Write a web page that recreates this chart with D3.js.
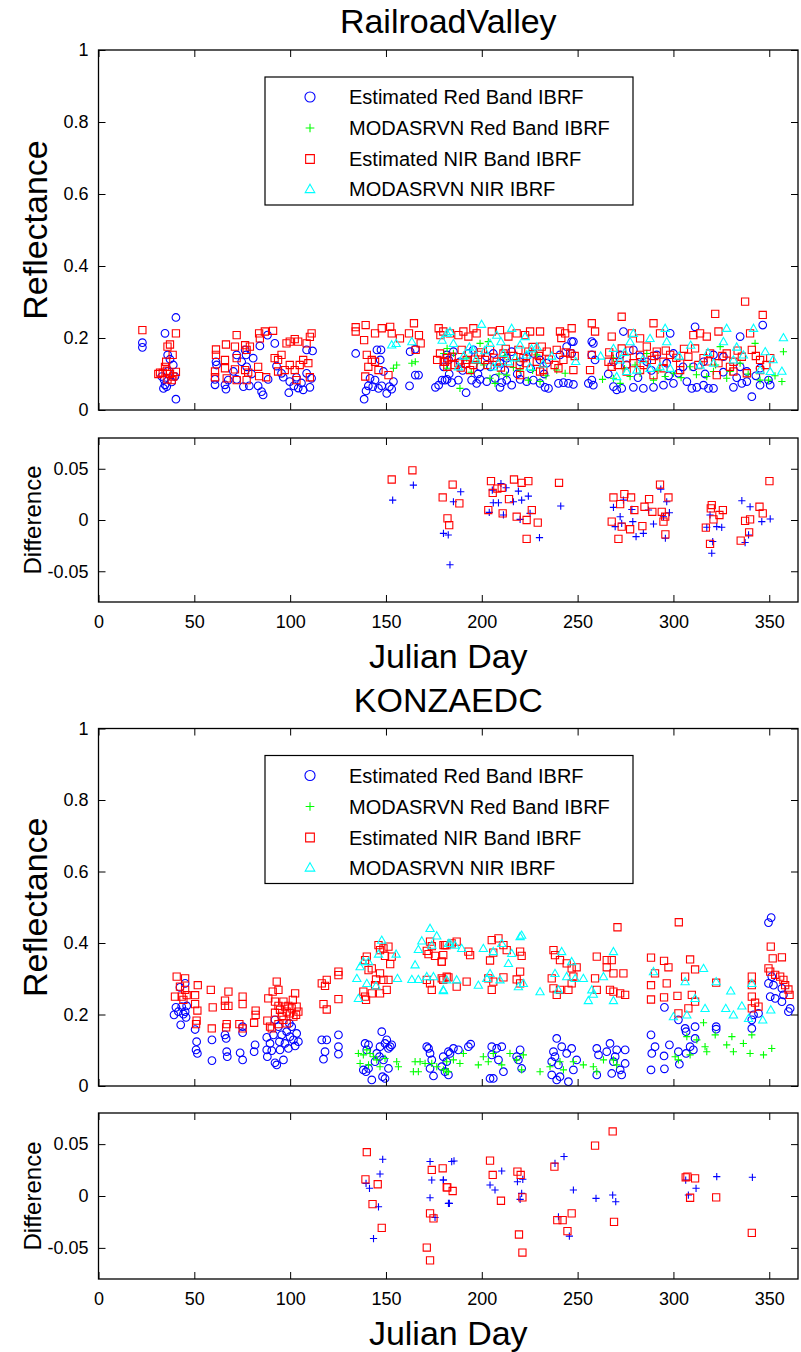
<!DOCTYPE html>
<html>
<head>
<meta charset="utf-8">
<script src="https://d3js.org/d3.v7.min.js"></script>
<style>
  body { margin: 0; background: #fff; }
  text { font-family: "Liberation Sans", Arial, sans-serif; fill: #000; }
</style>
</head>
<body>
<script>
// ---------- tick labels / categories ----------
var xTicks = [0, 50, 100, 150, 200, 250, 300, 350];
var reflTicks = [0, 0.2, 0.4, 0.6, 0.8, 1];
var diffTicks = [-0.05, 0, 0.05];
var legendLabels = ["Estimated Red Band IBRF", "MODASRVN Red Band IBRF", "Estimated NIR Band IBRF", "MODASRVN NIR IBRF"];
var siteNames = ["RailroadValley", "KONZAEDC"];

// ---------- RailroadValley: [julian day, reflectance] ----------
var rvEstRed = [
  [22.9,0.187],[22.9,0.174],[34.7,0.213],[40.4,0.257],[36.1,0.153],[37.3,0.141],[39.0,0.125],[33.0,0.093],[34.2,0.084],[34.7,0.070],
  [33.9,0.060],[35.6,0.065],[38.2,0.078],[40.4,0.030],[39.9,0.093],[36.0,0.107],
  [60.8,0.085],[60.8,0.070],[61.3,0.134],[61.6,0.125],[66.0,0.070],[66.5,0.058],[67.7,0.083],[70.4,0.107],[72.1,0.085],[74.7,0.134],
  [75.6,0.065],[77.0,0.153],[78.7,0.067],[79.9,0.100],[80.7,0.144],[83.3,0.067],[84.2,0.178],[85.1,0.051],[85.9,0.042],[88.2,0.208],
  [88.5,0.085],[92.0,0.185],[92.9,0.122],[95.5,0.102],[96.4,0.091],[99.3,0.048],[99.8,0.079],[101.9,0.067],[103.3,0.091],[104.2,0.061],
  [105.9,0.075],[106.8,0.056],[108.6,0.167],[110.3,0.063],[111.2,0.088],[111.7,0.164],[108.6,0.102],[76.5,0.167],[72.1,0.153],[77.3,0.120],
  [134.2,0.157],[138.6,0.030],[139.6,0.053],[140.8,0.067],[141.7,0.088],[143.1,0.065],[144.3,0.083],[146.1,0.060],[147.8,0.067],[148.7,0.107],
  [150.4,0.046],[151.8,0.065],[153.0,0.058],[153.9,0.079],[147.0,0.139],[145.3,0.167],[147.4,0.167],[162.3,0.067],[165.3,0.097],[167.0,0.097],
  [162.6,0.162],[165.3,0.169],[175.8,0.063],[177.5,0.069],[179.3,0.083],[181.9,0.085],[180.1,0.120],[182.7,0.139],
  [180.8,0.083],[184.3,0.076],[187.8,0.083],[191.8,0.048],[194.7,0.083],[197.3,0.074],[199.1,0.085],[202.6,0.079],[206.9,0.088],[209.5,0.063],
  [210.4,0.076],[213.0,0.083],[215.6,0.069],[220.0,0.085],[223.4,0.079],[226.9,0.083],[230.4,0.074],[233.0,0.063],[234.8,0.060],[240.0,0.074],
  [242.6,0.076],[245.2,0.074],[247.8,0.071],[255.6,0.074],[257.4,0.083],[258.2,0.069],[268.7,0.065],[270.4,0.056],[273.0,0.060],[279.1,0.063],
  [284.3,0.060],[289.6,0.063],[294.8,0.069],[300.0,0.074],[307.0,0.079],[309.6,0.060],[312.2,0.063],[315.7,0.069],[318.3,0.060],[320.9,0.060],
  [331.3,0.063],[335.7,0.074],[338.3,0.079],[340.9,0.037],[345.2,0.069],[349.6,0.083],[350.5,0.069],
  [181.7,0.153],[185.2,0.162],[188.6,0.134],[193.0,0.157],[195.6,0.167],[199.1,0.120],[202.6,0.148],[206.0,0.157],[209.5,0.130],[213.0,0.144],
  [215.6,0.162],[220.0,0.134],[223.4,0.148],[226.9,0.157],[230.4,0.139],[233.9,0.130],[240.8,0.153],[244.3,0.176],[246.9,0.157],[247.8,0.190],
  [257.4,0.153],[258.2,0.185],[259.1,0.139],[268.7,0.134],[272.2,0.153],[275.6,0.125],[279.1,0.167],[282.6,0.148],[286.1,0.134],[291.3,0.153],
  [296.5,0.130],[300.0,0.157],[302.6,0.102],[310.4,0.120],[315.7,0.134],[320.9,0.153],[326.1,0.148],[334.8,0.120],[338.3,0.107],[345.2,0.116],
  [273.9,0.218],[311.3,0.231],[334.8,0.204],[346.6,0.236],[298.3,0.213],[257.4,0.190],[246.9,0.190],
  [183.0,0.100],[190.0,0.110],[198.0,0.100],[204.5,0.120],[212.0,0.110],[218.5,0.100],[225.5,0.115],[232.5,0.100],[266.0,0.100],[281.5,0.090],
  [288.5,0.110],[297.5,0.095],[305.0,0.120],[316.5,0.100],[326.0,0.105],[333.0,0.090],[343.0,0.095]
];
var rvModRed = [
  [153.9,0.116],[155.6,0.125],[163.5,0.130],[165.3,0.134],[181.9,0.171],[180.1,0.157],
  [199.1,0.185],[203.4,0.190],[204.3,0.088],[206.9,0.074],[213.0,0.097],[220.0,0.111],[224.3,0.083],[230.4,0.079],[188.6,0.060],[181.7,0.116],
  [185.2,0.157],[192.1,0.144],[218.2,0.139],[228.7,0.153],[239.1,0.111],[243.5,0.102],[272.2,0.074],[268.7,0.088],[277.4,0.093],[282.6,0.102],
  [289.6,0.083],[295.7,0.093],[317.4,0.093],[324.4,0.176],[327.8,0.088],[329.6,0.107],[334.8,0.130],[342.6,0.185],[345.2,0.083],[349.6,0.083],
  [357.4,0.162],[356.6,0.079],[286.1,0.157],[268.7,0.144],[300.0,0.102],[320.9,0.107],[308.7,0.120],
  [194.5,0.105],[201.0,0.125],[209.0,0.100],[216.5,0.118],[226.5,0.110],[233.5,0.095],[197.5,0.130],[212.0,0.150],[263.0,0.085],[280.0,0.125],
  [292.0,0.110],[304.0,0.090],[312.0,0.098],[339.0,0.100],[353.0,0.095],[274.5,0.115],[322.0,0.125]
];
var rvEstNir = [
  [22.9,0.222],[40.4,0.213],[37.3,0.182],[38.7,0.153],[36.0,0.176],[35.3,0.134],[34.7,0.120],[32.1,0.104],[33.5,0.103],[35.6,0.109],
  [37.3,0.100],[39.0,0.093],[40.4,0.106],[36.0,0.085],[38.2,0.083],[31.2,0.100],
  [61.3,0.168],[61.3,0.153],[60.8,0.107],[60.8,0.091],[66.5,0.182],[66.0,0.139],[66.0,0.116],[66.9,0.088],[72.1,0.208],[71.2,0.176],
  [72.1,0.144],[71.2,0.113],[72.1,0.083],[76.5,0.180],[77.3,0.167],[79.0,0.176],[76.5,0.111],[78.1,0.104],[77.3,0.083],[83.8,0.213],
  [84.2,0.199],[86.8,0.218],[91.1,0.220],[83.3,0.120],[83.8,0.094],[87.5,0.091],[91.9,0.144],[93.7,0.139],[95.5,0.153],[98.1,0.185],
  [99.8,0.190],[93.7,0.107],[97.2,0.111],[99.8,0.125],[102.4,0.197],[104.2,0.190],[102.4,0.111],[103.3,0.083],[106.8,0.139],[108.6,0.185],
  [110.3,0.203],[111.2,0.213],[109.5,0.130],[110.3,0.091],[105.0,0.125],
  [134.2,0.230],[134.2,0.218],[139.4,0.236],[138.6,0.194],[140.0,0.153],[142.6,0.139],[140.8,0.120],[144.3,0.134],[139.2,0.093],[144.3,0.213],
  [147.8,0.227],[152.2,0.231],[153.0,0.213],[157.3,0.199],[151.3,0.097],[146.1,0.111],[162.0,0.213],[164.6,0.241],[167.2,0.208],[168.1,0.185],
  [165.5,0.167],[177.5,0.227],[178.4,0.208],[176.7,0.139],[180.1,0.134],[181.9,0.144],
  [179.9,0.218],[183.4,0.213],[187.8,0.208],[190.4,0.218],[193.0,0.204],[195.6,0.227],[197.3,0.213],[205.2,0.218],[209.5,0.222],[213.9,0.204],
  [218.2,0.213],[222.6,0.208],[225.2,0.218],[230.4,0.218],[240.8,0.218],[243.5,0.213],[246.9,0.227],[257.4,0.241],[259.1,0.218],[267.8,0.204],
  [273.0,0.259],[278.3,0.213],[282.6,0.199],[289.6,0.241],[293.0,0.213],[310.4,0.208],[313.9,0.213],[317.4,0.204],[321.8,0.267],[323.5,0.218],
  [337.4,0.301],[346.6,0.264],[340.0,0.213],
  [178.2,0.157],[180.8,0.134],[184.3,0.148],[187.8,0.130],[189.5,0.167],[192.1,0.139],[195.6,0.125],[198.2,0.153],[201.7,0.139],[204.3,0.167],
  [207.8,0.134],[211.3,0.157],[214.7,0.130],[219.1,0.167],[221.7,0.144],[224.3,0.162],[228.7,0.134],[231.3,0.176],[233.9,0.162],[239.1,0.167],
  [242.6,0.139],[246.1,0.157],[257.4,0.153],[266.1,0.134],[269.6,0.153],[273.0,0.171],[275.6,0.144],[279.1,0.130],[282.6,0.153],[286.1,0.176],
  [288.7,0.139],[291.3,0.162],[294.8,0.134],[298.3,0.153],[303.5,0.130],[307.8,0.148],[311.3,0.171],[315.7,0.144],[319.1,0.157],[323.5,0.130],
  [327.8,0.157],[331.3,0.134],[335.7,0.148],[340.9,0.167],[345.2,0.139],[350.5,0.144],
  [193.9,0.111],[220.0,0.097],[230.4,0.107],[232.1,0.111],[240.0,0.116],[247.8,0.111],[256.5,0.111],[267.8,0.120],[275.6,0.107],[282.6,0.111],
  [289.6,0.097],[294.8,0.116],[303.5,0.111],[322.6,0.097],[331.3,0.107],[338.3,0.102],[345.2,0.111],
  [182.0,0.120],[185.8,0.125],[189.0,0.118],[191.5,0.128],[196.5,0.140],[199.5,0.160],[203.0,0.125],[206.5,0.145],[210.0,0.118],[212.5,0.170],
  [216.5,0.150],[219.8,0.125],[223.0,0.130],[226.5,0.175],[229.8,0.150],[235.0,0.140],[238.0,0.125],[243.8,0.160],[248.5,0.150],[241.5,0.200],
  [266.5,0.160],[271.0,0.125],[277.0,0.165],[284.5,0.125],[290.0,0.150],[296.0,0.165],[301.5,0.145],[305.5,0.170],[313.0,0.125],[318.0,0.135],
  [325.5,0.150],[329.5,0.120],[333.5,0.165],[343.0,0.150],[348.5,0.125]
];
var rvModNir = [
  [153.0,0.181],[155.3,0.185],[163.5,0.190],[181.9,0.213],[179.3,0.194],
  [199.9,0.238],[215.6,0.227],[183.4,0.218],[207.8,0.208],[222.6,0.204],[185.2,0.185],[204.3,0.185],[220.0,0.181],[228.7,0.176],[195.6,0.167],
  [211.3,0.157],[223.4,0.153],[187.8,0.120],[208.7,0.130],[213.9,0.134],[225.2,0.120],[268.7,0.171],[272.2,0.139],[277.4,0.190],[287.8,0.199],
  [295.7,0.227],[275.6,0.107],[280.9,0.111],[287.8,0.116],[293.0,0.120],[298.3,0.116],[313.9,0.125],[320.9,0.130],[326.1,0.190],[327.8,0.227],
  [331.3,0.139],[336.5,0.153],[341.8,0.227],[347.9,0.162],[345.2,0.111],[350.5,0.107],[357.4,0.201],[356.6,0.108],[296.5,0.190],[279.1,0.213],
  [270.4,0.093],
  [190.5,0.150],[193.5,0.175],[197.0,0.140],[201.5,0.165],[206.0,0.120],[210.0,0.190],[217.5,0.145],[226.0,0.170],[232.0,0.128],[236.5,0.150],
  [249.0,0.135],[262.0,0.150],[284.0,0.140],[303.0,0.150],[318.0,0.160],[333.0,0.175],[352.0,0.140],[309.0,0.180],[274.5,0.160]
];
// RailroadValley differences (MODASRVN - estimated)
var rvDiffRed = [
  [153.5,0.0194],[164.3,0.034],[180.0,-0.013],[182.5,-0.0146],[183.4,-0.0437],[189.0,0.0275],[185.2,0.0178],
  [205.5,0.0291],[210.0,0.0356],[212.7,0.0314],[219.1,0.0282],[206.0,0.0168],[208.7,0.0168],[203.9,0.0074],[211.3,0.0049],[216.5,0.0178],
  [220.8,0.0194],[224.3,0.0233],[225.2,0.0065],[220.0,0.0006],[230.1,-0.0172],[241.2,0.0136],[268.7,0.0123],[272.2,0.0032],[273.9,0.0194],
  [278.3,0.0103],[273.0,-0.0032],[269.6,-0.0065],[278.8,-0.0016],[280.5,-0.0162],[284.3,-0.013],[287.0,0.0097],[289.6,-0.0039],[293.4,0.0301],
  [296.5,0.0178],[297.9,0.0071],[294.8,0.0032],[295.8,-0.0178],[317.4,-0.0071],[320.5,-0.021],[320.0,-0.0324],[322.6,-0.0065],[325.2,-0.0071],
  [319.1,0.0049],[335.7,0.0188],[340.0,0.0129],[339.2,-0.0146],[337.4,-0.022],[346.1,-0.0016],[350.5,0.0010]
];
var rvDiffNir = [
  [153.0,0.0395],[163.8,0.0485],[179.6,0.022],[182.1,0.0016],[183.0,-0.005],[184.8,0.0346],[188.3,0.0162],
  [204.8,0.0379],[205.7,0.0265],[208.1,0.0307],[210.4,0.0314],[203.4,0.0097],[210.9,0.0065],[214.2,0.0204],[216.8,0.0395],[220.8,0.0363],
  [224.3,0.0379],[226.1,0.0097],[218.2,0.0032],[223.4,0.0],[229.2,-0.0026],[223.4,-0.0184],[240.3,0.0363],[268.7,0.022],[274.4,0.0252],
  [277.9,0.022],[272.2,0.0155],[279.6,0.0097],[267.8,-0.0016],[273.0,-0.0065],[277.4,-0.009],[271.3,-0.0184],[283.8,-0.006],[284.9,0.0129],
  [287.3,0.0204],[289.0,0.008],[293.0,0.0346],[297.4,0.022],[293.9,0.008],[295.7,0.0032],[294.8,-0.0016],[295.8,-0.014],[316.9,-0.0074],
  [319.5,0.0113],[320.0,0.0146],[320.9,0.0006],[325.8,0.0097],[324.0,0.0049],[319.1,-0.0233],[337.4,-0.0009],[340.0,0.0006],[339.5,-0.012],
  [335.1,-0.0201],[344.9,0.0129],[346.6,0.0065],[350.1,0.0379]
];

// ---------- KONZAEDC: [julian day, reflectance] ----------
var kzEstRed = [
  [45.2,0.287],[42.5,0.276],[40.4,0.220],[43.4,0.222],[46.0,0.224],[39.4,0.199],[41.7,0.208],[44.3,0.201],[45.7,0.192],[42.9,0.171],
  [45.2,0.208],[50.4,0.158],[51.2,0.124],[50.9,0.101],[51.6,0.091],[59.2,0.129],[59.2,0.071],[66.0,0.143],[66.6,0.133],[66.9,0.096],
  [67.2,0.082],[73.9,0.093],[75.2,0.073],[75.2,0.166],[75.2,0.149],[81.7,0.115],[81.2,0.096],[87.8,0.136],[87.8,0.101],[88.1,0.082],
  [89.5,0.119],[90.4,0.099],[91.3,0.143],[92.1,0.065],[93.0,0.059],[93.9,0.166],[94.4,0.124],[94.7,0.101],[95.6,0.143],[96.5,0.073],
  [97.3,0.119],[98.2,0.152],[99.1,0.105],[99.9,0.138],[100.8,0.166],[101.7,0.129],[102.6,0.112],[103.4,0.147],[104.3,0.124],[99.6,0.175],
  [92.1,0.185],[116.5,0.129],[117.4,0.075],[118.2,0.096],[119.1,0.129],[125.2,0.143],[125.2,0.110],[125.2,0.089],
  [139.1,0.119],[140.0,0.101],[140.9,0.115],[138.2,0.045],[139.6,0.040],[140.9,0.049],[142.6,0.017],[144.3,0.068],[145.2,0.091],[146.6,0.082],
  [147.8,0.152],[148.2,0.026],[149.5,0.021],[150.4,0.129],[151.3,0.105],[152.2,0.110],[153.0,0.115],[149.5,0.119],[146.9,0.110],[148.7,0.073],
  [151.3,0.049],[171.3,0.110],[172.2,0.105],[173.0,0.091],[173.9,0.073],[174.8,0.028],[173.0,0.049],[182.6,0.096],
  [179.9,0.082],[179.1,0.054],[181.7,0.068],[183.4,0.091],[185.2,0.105],[182.6,0.031],[187.8,0.101],[193.0,0.110],[194.2,0.117],[180.8,0.040],
  [205.2,0.110],[207.8,0.105],[210.4,0.110],[205.2,0.087],[208.7,0.073],[211.3,0.040],[204.3,0.021],[206.0,0.021],[220.0,0.101],[219.1,0.073],
  [220.8,0.049],[218.2,0.082],[239.1,0.133],[237.4,0.096],[236.5,0.068],[241.7,0.110],[244.3,0.091],[246.9,0.105],[238.2,0.082],[240.0,0.059],
  [236.5,0.031],[239.1,0.017],[245.2,0.012],[249.5,0.073],[247.8,0.045],[240.8,0.026],[260.0,0.105],[260.9,0.087],[265.2,0.096],[266.9,0.119],
  [268.7,0.068],[270.4,0.101],[274.8,0.101],[274.8,0.063],[273.0,0.031],[267.8,0.035],[260.0,0.031],[272.2,0.045],[269.6,0.082],
  [288.3,0.143],[290.4,0.110],[288.7,0.091],[288.3,0.045],[295.1,0.084],[297.9,0.115],[295.3,0.048],[302.6,0.096],[303.1,0.061],[295.3,0.220],
  [302.6,0.185],[306.1,0.161],[306.6,0.152],[311.3,0.166],[311.3,0.133],[308.7,0.110],[310.4,0.101],[306.6,0.091],[322.3,0.166],[322.3,0.159],
  [340.9,0.185],[341.8,0.199],[340.9,0.161],[344.4,0.203],[349.6,0.287],[351.3,0.306],[352.2,0.282],[350.5,0.250],[353.1,0.245],[356.6,0.236],
  [357.4,0.255],[360.0,0.208],[360.9,0.217],[349.6,0.457],[351.0,0.471],[356.6,0.273]
];
var kzModRed = [
  [135.6,0.091],[138.2,0.087],[140.0,0.101],[141.7,0.091],[143.5,0.082],[136.5,0.063],[140.9,0.059],[145.2,0.073],[146.9,0.054],[149.5,0.077],
  [155.6,0.068],[156.5,0.054],[165.2,0.068],[167.8,0.068],[164.3,0.040],[166.9,0.040],[170.4,0.063],[173.9,0.063],[176.5,0.054],[180.0,0.045],
  [182.6,0.040],[181.7,0.068],[185.2,0.073],[188.6,0.063],[190.4,0.091],[181.7,0.040],[200.8,0.082],[203.4,0.068],[198.2,0.059],[210.4,0.059],
  [206.0,0.091],[214.7,0.091],[218.2,0.073],[221.7,0.087],[220.8,0.045],[230.4,0.040],[235.6,0.054],[240.8,0.068],[242.6,0.045],[247.8,0.068],
  [253.0,0.059],[258.2,0.054],[260.0,0.040],[263.5,0.073],[268.7,0.073],[270.4,0.059],[300.9,0.082],[302.6,0.073],[307.0,0.138],[312.2,0.129],
  [315.7,0.177],[321.8,0.143],[316.5,0.110],[317.4,0.096],[327.8,0.115],[330.5,0.138],[331.3,0.096],[336.5,0.119],[340.9,0.143],[340.0,0.091],
  [347.0,0.087],[351.3,0.105],[308.7,0.087]
];
var kzEstNir = [
  [40.8,0.306],[45.2,0.301],[42.5,0.278],[45.2,0.269],[39.9,0.250],[43.4,0.250],[46.0,0.254],[44.3,0.241],[51.8,0.282],[50.4,0.254],
  [50.4,0.229],[51.6,0.211],[51.2,0.183],[50.9,0.173],[58.6,0.269],[59.6,0.220],[59.1,0.161],[67.8,0.264],[66.0,0.239],[66.0,0.224],
  [67.8,0.224],[66.9,0.173],[66.6,0.164],[75.2,0.250],[75.2,0.229],[73.5,0.173],[75.2,0.161],[82.0,0.211],[82.0,0.199],[81.2,0.177],
  [88.1,0.183],[88.6,0.245],[90.9,0.264],[93.0,0.292],[93.9,0.269],[92.1,0.236],[93.9,0.224],[92.1,0.205],[89.5,0.166],[90.4,0.161],
  [93.9,0.173],[94.7,0.213],[96.5,0.236],[97.3,0.222],[98.2,0.208],[99.1,0.224],[99.9,0.203],[100.8,0.217],[101.7,0.194],[102.6,0.259],
  [103.4,0.222],[104.3,0.208],[103.1,0.199],[101.4,0.241],[96.5,0.185],[98.2,0.175],[95.6,0.196],
  [116.5,0.287],[119.1,0.297],[118.2,0.280],[117.4,0.229],[119.1,0.214],[125.2,0.310],[125.2,0.320],[125.2,0.243],
  [140.0,0.362],[139.1,0.352],[140.9,0.324],[142.6,0.329],[144.3,0.282],[138.2,0.264],[139.1,0.250],[139.6,0.241],[146.1,0.394],[146.9,0.380],
  [148.7,0.385],[151.3,0.390],[149.5,0.364],[153.0,0.362],[152.2,0.341],[146.9,0.315],[144.8,0.298],[148.7,0.297],[151.3,0.297],[150.4,0.269],
  [146.9,0.259],[142.6,0.259],[171.3,0.378],[172.2,0.369],[173.0,0.404],[173.9,0.391],[175.6,0.364],[179.1,0.348],[180.0,0.394],[181.7,0.394],
  [171.3,0.297],[173.0,0.287],[173.9,0.269],[179.1,0.301],[181.7,0.306],
  [180.8,0.394],[184.3,0.399],[186.9,0.404],[179.9,0.366],[179.1,0.348],[179.9,0.297],[182.6,0.304],[186.9,0.278],[192.1,0.292],[193.0,0.376],
  [193.9,0.366],[205.2,0.408],[208.7,0.413],[211.3,0.394],[213.0,0.380],[206.0,0.373],[204.3,0.351],[203.4,0.301],[206.0,0.292],[205.2,0.269],
  [211.3,0.304],[220.0,0.376],[220.8,0.364],[218.2,0.298],[220.0,0.320],[220.0,0.287],[237.4,0.380],[238.2,0.366],[240.8,0.352],[244.3,0.343],
  [246.9,0.329],[249.5,0.332],[236.5,0.301],[237.4,0.273],[239.1,0.255],[240.8,0.269],[245.2,0.269],[246.9,0.287],[247.8,0.306],[260.0,0.362],
  [265.2,0.352],[267.8,0.352],[268.7,0.315],[265.2,0.332],[259.1,0.301],[260.0,0.269],[266.9,0.269],[268.7,0.264],[272.2,0.259],[273.9,0.315],
  [274.8,0.255],[270.8,0.444],[288.3,0.359],[290.4,0.315],[288.3,0.282],[288.3,0.242],[295.1,0.350],[297.4,0.332],[296.5,0.287],[295.1,0.248],
  [302.1,0.252],[302.8,0.458],[306.1,0.306],[308.7,0.354],[311.3,0.326],[309.6,0.255],[311.3,0.236],[307.8,0.217],[302.6,0.203],[322.3,0.289],
  [340.9,0.306],[340.9,0.282],[340.9,0.250],[342.6,0.233],[344.4,0.222],[340.9,0.217],[349.6,0.329],[350.8,0.390],[351.8,0.357],[356.6,0.360],
  [350.5,0.320],[353.1,0.311],[355.7,0.306],[357.4,0.297],[358.3,0.282],[360.6,0.255],[360.0,0.270]
];
var kzModNir = [
  [147.8,0.408],[146.1,0.369],[155.3,0.369],[136.5,0.334],[138.2,0.348],[140.9,0.348],[134.8,0.301],[140.0,0.287],[144.8,0.280],[135.6,0.245],
  [156.0,0.301],[173.0,0.441],[176.5,0.420],[168.7,0.406],[166.9,0.382],[165.2,0.339],[163.5,0.298],[166.9,0.298],[171.3,0.306],[174.8,0.306],
  [173.9,0.394],[180.0,0.267],[182.6,0.399],
  [179.9,0.269],[181.7,0.297],[183.4,0.399],[186.0,0.394],[189.5,0.385],[186.9,0.297],[200.8,0.385],[198.2,0.282],[204.3,0.315],[202.6,0.301],
  [206.0,0.376],[209.5,0.297],[210.4,0.399],[213.9,0.343],[215.6,0.371],[220.0,0.418],[220.8,0.422],[219.1,0.278],[221.7,0.287],[230.4,0.264],
  [238.2,0.315],[241.7,0.376],[240.0,0.269],[244.3,0.306],[246.9,0.348],[248.7,0.301],[253.0,0.301],[255.6,0.239],[258.2,0.257],[257.4,0.269],
  [263.5,0.306],[268.7,0.376],[268.7,0.239],[289.6,0.320],[300.0,0.194],[307.0,0.199],[306.1,0.292],[311.3,0.245],[315.7,0.329],[316.5,0.217],
  [322.3,0.292],[327.3,0.217],[329.9,0.266],[331.3,0.199],[335.7,0.224],[339.2,0.189],[340.9,0.287],[346.6,0.185],[350.8,0.213]
];
// KONZAEDC differences
var kzDiffRed = [
  [148.3,0.0354],[146.9,0.0212],[139.6,0.0122],[141.4,0.0074],[146.1,-0.0104],[143.5,-0.041],[173.0,0.0332],[173.9,0.0154],[180.0,0.0154],
  [173.0,-0.0017],[175.6,-0.0207],[182.6,-0.0071],[184.3,0.0332],[185.5,0.0338],[179.9,0.0154],[183.1,-0.0071],[210.4,0.0241],[204.3,0.0106],
  [206.9,0.0058],[218.6,0.0138],[221.4,0.0161],[220.8,0.0025],[220.0,-0.0033],[242.9,0.038],[238.2,0.0315],[247.8,0.0058],[240.0,-0.02],
  [245.7,-0.0387],[259.6,-0.0023],[268.3,0.0009],[269.9,-0.0055],[306.4,0.0154],[307.8,0.0009],[311.8,0.0074],[322.6,0.0187],[341.2,0.018]
];
var kzDiffNir = [
  [140.0,0.0422],[139.3,0.016],[145.7,0.0113],[143.0,-0.0078],[147.8,-0.0307],[173.9,0.0251],[179.6,0.0267],[181.7,0.0083],[173.0,-0.0168],
  [174.8,-0.0216],[171.3,-0.0497],[173.0,-0.062],[182.0,0.0083],[184.8,0.0048],[204.3,0.0341],[205.7,0.0203],[210.0,-0.0046],[218.6,0.0235],
  [220.3,0.0203],[221.2,-0.0013],[219.4,-0.0371],[221.2,-0.0545],[237.9,0.0283],[239.4,-0.0233],[242.2,-0.0233],[246.9,-0.0168],[244.7,-0.0339],
  [259.1,0.0486],[268.3,0.0622],[269.0,-0.0249],[306.4,0.018],[307.3,0.0187],[311.3,0.017],[308.7,-0.0017],[322.3,-0.0013],[340.9,-0.0355]
];

// ---------- marker shapes (stroke-only, MATLAB-like) ----------
var symPlus = { draw: function(ctx, size) { var r = Math.sqrt(size) / 2;
  ctx.moveTo(-r, 0); ctx.lineTo(r, 0); ctx.moveTo(0, -r); ctx.lineTo(0, r); } };
var symSquare = { draw: function(ctx, size) { var r = Math.sqrt(size) / 2;
  ctx.rect(-r, -r, 2 * r, 2 * r); } };
var symTriangle = { draw: function(ctx, size) { var r = Math.sqrt(size) / 2;
  ctx.moveTo(0, -r); ctx.lineTo(r, r * 0.75); ctx.lineTo(-r, r * 0.75); ctx.closePath(); } };

var styles = {
  estRed: { type: d3.symbolCircle, size: 46, color: "#0000ff" },
  modRed: { type: symPlus, size: 52, color: "#00ff00" },
  estNir: { type: symSquare, size: 52, color: "#ff0000" },
  modNir: { type: symTriangle, size: 68, color: "#00ffff" },
  diffRed: { type: symPlus, size: 52, color: "#0000ff" },
  diffNir: { type: symSquare, size: 52, color: "#ff0000" }
};

var W = 801, H = 1352;
var svg = d3.select("body").append("svg").attr("width", W).attr("height", H);

var x = d3.scaleLinear().domain([0, 365]).range([98.5, 798]);

function fmtNum(d) { return d === 0 ? "0" : String(+d.toFixed(2)); }

function drawAxes(g, y, yTicks, showXLabels) {
  var x0 = x.range()[0], x1 = x.range()[1];
  var yb = y.range()[0], yt = y.range()[1];
  var fontFam = '"Liberation Sans", Arial, sans-serif';

  var bottom = g.append("g").attr("transform", "translate(0," + yb + ")")
    .call(d3.axisBottom(x).tickValues(xTicks).tickSize(-7).tickPadding(13)
      .tickFormat(showXLabels ? d3.format("d") : ""));
  var top = g.append("g").attr("transform", "translate(0," + yt + ")")
    .call(d3.axisTop(x).tickValues(xTicks).tickSize(-7).tickFormat(""));
  var left = g.append("g").attr("transform", "translate(" + x0 + ",0)")
    .call(d3.axisLeft(y).tickValues(yTicks).tickSize(-7).tickPadding(10).tickFormat(fmtNum));
  var right = g.append("g").attr("transform", "translate(" + x1 + ",0)")
    .call(d3.axisRight(y).tickValues(yTicks).tickSize(-7).tickFormat(""));

  [bottom, top, left, right].forEach(function(a) {
    a.attr("font-size", 18).attr("font-family", fontFam);
    a.select(".domain").remove();
    a.selectAll(".tick line").attr("stroke", "#000");
    a.selectAll(".tick text").attr("fill", "#000");
  });

  g.append("rect").attr("x", x0).attr("y", yt).attr("width", x1 - x0).attr("height", yb - yt)
    .attr("fill", "none").attr("stroke", "#000").attr("stroke-width", 1.3);
}

function drawSeries(g, y, data, st) {
  var sym = d3.symbol().type(st.type).size(st.size);
  g.append("g").selectAll("path").data(data).enter().append("path")
    .attr("transform", function(d) { return "translate(" + x(d[0]) + "," + y(d[1]) + ")"; })
    .attr("d", sym)
    .attr("fill", "none").attr("stroke", st.color).attr("stroke-width", 1.1);
}

function drawLegend(g, axTop) {
  var keys = ["estRed", "modRed", "estNir", "modNir"];
  var lg = g.append("g");
  lg.append("rect").attr("x", 265).attr("y", axTop + 27).attr("width", 368).attr("height", 128)
    .attr("fill", "#fff").attr("stroke", "#000").attr("stroke-width", 1.2);
  var rows = [47, 78, 109, 139];
  keys.forEach(function(k, i) {
    var st = styles[k];
    lg.append("path").attr("transform", "translate(310," + (axTop + rows[i]) + ")")
      .attr("d", d3.symbol().type(st.type).size(k === "estRed" ? 80 : st.size + 24))
      .attr("fill", "none").attr("stroke", st.color).attr("stroke-width", 1.1);
    lg.append("text").attr("x", 349).attr("y", axTop + rows[i]).attr("dy", "0.36em")
      .attr("font-size", 20).text(legendLabels[i]);
  });
}

function drawSite(name, reflTop, reflBottom, diffTop, diffBottom, refl, diff) {
  var g = svg.append("g");
  var yR = d3.scaleLinear().domain([0, 1]).range([reflBottom, reflTop]);
  var yD = d3.scaleLinear().domain([-0.08, 0.08]).range([diffBottom, diffTop]);

  // title
  g.append("text").attr("x", (x.range()[0] + x.range()[1]) / 2).attr("y", reflTop - 17)
    .attr("text-anchor", "middle").attr("font-size", 34).text(name);

  // reflectance panel
  drawSeries(g, yR, refl.estRed, styles.estRed);
  drawSeries(g, yR, refl.modRed, styles.modRed);
  drawSeries(g, yR, refl.estNir, styles.estNir);
  drawSeries(g, yR, refl.modNir, styles.modNir);
  drawAxes(g, yR, reflTicks, false);
  drawLegend(g, reflTop);
  g.append("text").attr("transform", "translate(47," + ((reflTop + reflBottom) / 2) + ") rotate(-90)")
    .attr("text-anchor", "middle").attr("font-size", 34).text("Reflectance");

  // difference panel
  drawSeries(g, yD, diff.red, styles.diffRed);
  drawSeries(g, yD, diff.nir, styles.diffNir);
  drawAxes(g, yD, diffTicks, true);
  g.append("text").attr("transform", "translate(41," + ((diffTop + diffBottom) / 2) + ") rotate(-90)")
    .attr("text-anchor", "middle").attr("font-size", 24).text("Difference");

  g.append("text").attr("x", (x.range()[0] + x.range()[1]) / 2).attr("y", diffBottom + 66)
    .attr("text-anchor", "middle").attr("font-size", 34).text("Julian Day");
}

drawSite(siteNames[0], 50, 410, 438, 602,
  { estRed: rvEstRed, modRed: rvModRed, estNir: rvEstNir, modNir: rvModNir },
  { red: rvDiffRed, nir: rvDiffNir });
drawSite(siteNames[1], 728.5, 1086, 1113, 1279,
  { estRed: kzEstRed, modRed: kzModRed, estNir: kzEstNir, modNir: kzModNir },
  { red: kzDiffRed, nir: kzDiffNir });
</script>
</body>
</html>
